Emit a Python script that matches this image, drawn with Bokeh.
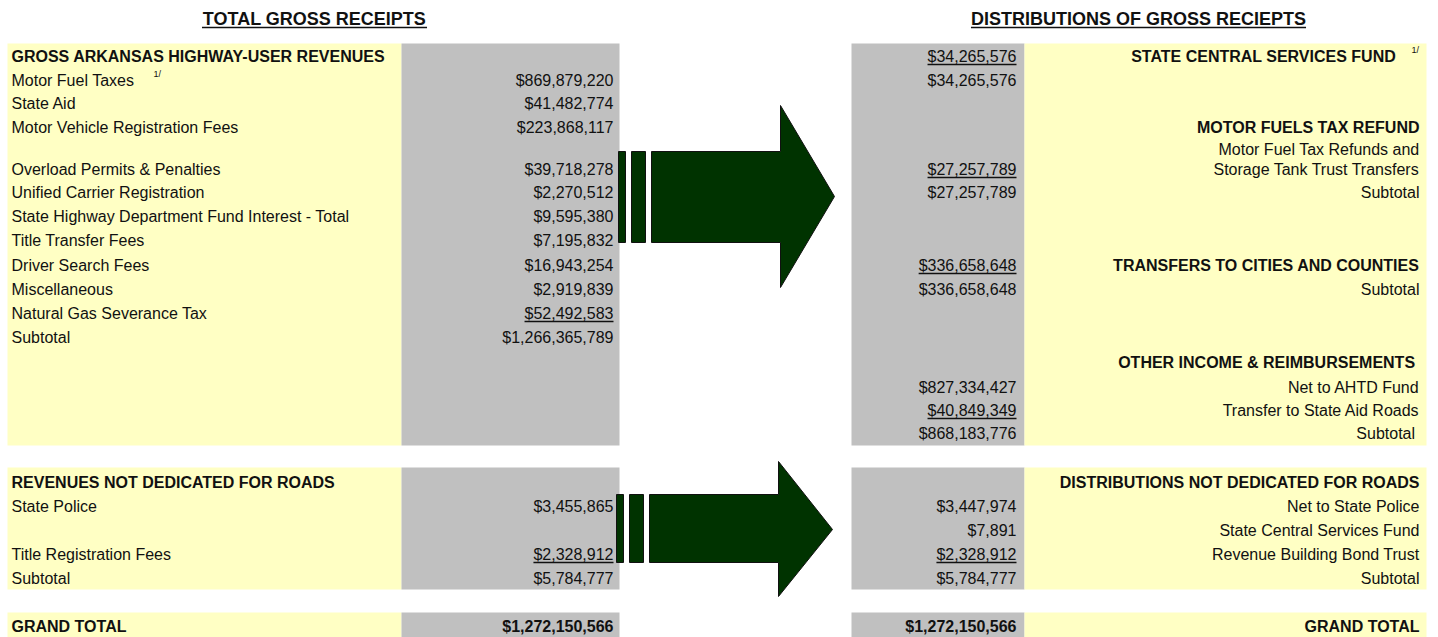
from bokeh.plotting import figure
from bokeh.models import Range1d, ColumnDataSource
from bokeh.core.properties import value
from bokeh.embed import file_html
from bokeh.resources import INLINE

# ---------------- data ----------------
title_left = "TOTAL GROSS RECEIPTS"
title_right = "DISTRIBUTIONS OF GROSS RECIEPTS"

gross_header = "GROSS ARKANSAS HIGHWAY-USER REVENUES"
gross_labels = ["Motor Fuel Taxes", "State Aid", "Motor Vehicle Registration Fees",
                "Overload Permits & Penalties", "Unified Carrier Registration",
                "State Highway Department Fund Interest - Total", "Title Transfer Fees",
                "Driver Search Fees", "Miscellaneous", "Natural Gas Severance Tax", "Subtotal"]
gross_values = [869879220, 41482774, 223868117, 39718278, 2270512, 9595380, 7195832,
                16943254, 2919839, 52492583, 1266365789]
gross_rows = [1, 2, 3, 5, 6, 7, 8, 9, 10, 11, 12]
gross_underline = [False] * 9 + [True, False]

dist_labels = ["STATE CENTRAL SERVICES  FUND", "", "MOTOR FUELS TAX REFUND", "Motor Fuel Tax Refunds and",
               "Storage Tank Trust Transfers", "Subtotal", "TRANSFERS TO CITIES AND COUNTIES", "Subtotal",
               "OTHER  INCOME & REIMBURSEMENTS", "Net to AHTD Fund", "Transfer to State Aid Roads", "Subtotal "]
dist_bold = [True, False, True, False, False, False, True, False, True, False, False, False]
dist_values = [34265576, 34265576, None, None, 27257789, 27257789, 336658648, 336658648,
               None, 827334427, 40849349, 868183776]
dist_underline = [True, False, False, False, True, False, True, False, False, False, True, False]
dist_rows = [0, 1, 3, 4, 5, 6, 9, 10, 13, 14, 15, 16]

nd_header_left = "REVENUES NOT DEDICATED FOR ROADS"
nd_labels_left = ["State Police", "Title Registration Fees", "Subtotal"]
nd_values_left = [3455865, 2328912, 5784777]
nd_rows_left = [1, 3, 4]
nd_underline_left = [False, True, False]

nd_header_right = "DISTRIBUTIONS NOT DEDICATED FOR ROADS"
nd_labels_right = ["Net to State Police", "State Central Services Fund", "Revenue Building Bond Trust", "Subtotal"]
nd_values_right = [3447974, 7891, 2328912, 5784777]
nd_rows_right = [1, 2, 3, 4]
nd_underline_right = [False, False, True, False]

grand_label = "GRAND TOTAL"
grand_value = 1272150566
footnote = "1/"

# ---------------- layout ----------------
YELLOW = "#FFFFC4"
GRAY = "#C0C0C0"
GREEN = "#003300"
FONT = value("Liberation Sans")
FS = 16

TOP_ROW_Y = [56, 80, 103, 127, 149, 169, 192, 216, 240, 265, 289, 313, 337, 362, 387, 410, 433]
BOT_ROW_Y = [482, 506, 530, 554, 578]
GT_Y = 626

LX0, LX1, LX2 = 7, 401, 619
RX0, RX1, RX2 = 851, 1024, 1426
L_TEXT = 11
L_NUM = 613
R_NUM = 1016
R_TEXT = 1419

W_REG = {c: 556 for c in "0123456789$"}
W_REG.update({",": 278, ".": 278, " ": 278})
W_BOLD_UP = dict(A=722, B=722, C=722, D=722, E=667, F=611, G=778, H=722, I=278, J=556, K=722,
                 L=611, M=833, N=722, O=778, P=667, Q=778, R=722, S=667, T=611, U=722, V=667,
                 W=944, X=667, Y=667, Z=611)
W_BOLD_UP[" "] = 278


def tw(s, size, bold=False):
    table = W_BOLD_UP if bold else W_REG
    return sum(table.get(c, 556) for c in s) * size / 1000.0


def money(v):
    return "${:,}".format(v)


p = figure(width=1438, height=637, output_backend="svg", toolbar_location=None,
           x_range=Range1d(0, 1438), y_range=Range1d(637, 0), min_border=0)
p.axis.visible = False
p.grid.visible = False
p.outline_line_color = None
p.background_fill_color = "white"

# panels
panels = dict(left=[LX0, LX1, RX0, RX1, LX0, LX1, RX0, RX1, LX0, LX1, RX0, RX1],
              right=[LX1, LX2, RX1, RX2, LX1, LX2, RX1, RX2, LX1, LX2, RX1, RX2],
              top=[43, 43, 43, 43, 467, 467, 467, 467, 612, 612, 612, 612],
              bottom=[445, 445, 445, 445, 589, 589, 589, 589, 638, 638, 638, 638],
              color=[YELLOW, GRAY, GRAY, YELLOW] * 3)
p.quad(source=ColumnDataSource(panels), left="left", right="right", top="top", bottom="bottom",
       fill_color="color", line_color=None)

# arrows
def arrow(bar_top, bar_bot, head_top, head_bot, tip_y, x0):
    xs = [[x0, x0 + 7, x0 + 7, x0], [x0 + 13, x0 + 27, x0 + 27, x0 + 13],
          [x0 + 33, x0 + 162, x0 + 162, x0 + 216, x0 + 162, x0 + 162, x0 + 33]]
    ys = [[bar_top, bar_top, bar_bot, bar_bot], [bar_top, bar_top, bar_bot, bar_bot],
          [bar_top, bar_top, head_top, tip_y, head_bot, bar_bot, bar_bot]]
    return xs, ys

ax1, ay1 = arrow(151, 242, 105, 287, 196, 618)
ax2, ay2 = arrow(494, 562, 461, 596, 529, 616)
p.patches(xs=ax1 + ax2, ys=ay1 + ay2, fill_color=GREEN, line_color="#111111", line_width=1)

texts = dict(x=[], y=[], text=[], align=[], bold=[], size=[])
ulines = dict(x0=[], x1=[], y=[])


def add(x, y, t, align="left", bold=False, size=FS, underline=False):
    texts["x"].append(x); texts["y"].append(y); texts["text"].append(t)
    texts["align"].append(align); texts["bold"].append(bold); texts["size"].append(size)
    if underline:
        w = tw(t, size, bold)
        if align == "right":
            a, b = x - w, x
        elif align == "center":
            a, b = x - w / 2, x + w / 2
        else:
            a, b = x, x + w
        ulines["x0"].append(a); ulines["x1"].append(b)
        ulines["y"].append(y + (9 if size > 16 else 8))


# titles
add(314, 18, title_left, "center", True, 18, True)
add(1138, 18, title_right, "center", True, 18, True)

# top-left
add(L_TEXT, TOP_ROW_Y[0], gross_header, bold=True)
for lab, v, r, u in zip(gross_labels, gross_values, gross_rows, gross_underline):
    add(L_TEXT, TOP_ROW_Y[r], lab)
    add(L_NUM, TOP_ROW_Y[r], money(v), "right", underline=u)

# top-right
for lab, b, v, u, r in zip(dist_labels, dist_bold, dist_values, dist_underline, dist_rows):
    y = TOP_ROW_Y[r]
    if v is not None:
        add(R_NUM, y, money(v), "right", underline=u)
    if lab:
        xr = R_TEXT - 19 if r == 0 else R_TEXT
        add(xr, y, lab, "right", bold=b)

# bottom
add(L_TEXT, BOT_ROW_Y[0], nd_header_left, bold=True)
for lab, v, r, u in zip(nd_labels_left, nd_values_left, nd_rows_left, nd_underline_left):
    add(L_TEXT, BOT_ROW_Y[r], lab)
    add(L_NUM, BOT_ROW_Y[r], money(v), "right", underline=u)
add(R_TEXT, BOT_ROW_Y[0], nd_header_right, "right", bold=True)
for lab, v, r, u in zip(nd_labels_right, nd_values_right, nd_rows_right, nd_underline_right):
    add(R_NUM, BOT_ROW_Y[r], money(v), "right", underline=u)
    add(R_TEXT, BOT_ROW_Y[r], lab, "right")

# grand total
add(L_TEXT, GT_Y, grand_label, bold=True)
add(L_NUM, GT_Y, money(grand_value), "right", bold=True)
add(R_NUM, GT_Y, money(grand_value), "right", bold=True)
add(R_TEXT, GT_Y, grand_label, "right", bold=True)

# render texts grouped by style
for align in ("left", "right", "center"):
    for bold in (False, True):
        for size in sorted(set(texts["size"])):
            idx = [i for i in range(len(texts["x"]))
                   if texts["align"][i] == align and texts["bold"][i] == bold and texts["size"][i] == size]
            if not idx:
                continue
            src = ColumnDataSource(dict(x=[texts["x"][i] for i in idx], y=[texts["y"][i] for i in idx],
                                        text=[texts["text"][i] for i in idx]))
            p.text(x="x", y="y", text="text", source=src, text_font=FONT,
                   text_font_size="%dpx" % size, text_font_style="bold" if bold else "normal",
                   text_align=align, text_baseline="middle", text_color="#111111")

p.segment(x0="x0", x1="x1", y0="y", y1="y", source=ColumnDataSource(ulines),
          line_color="#111111", line_width=1.5)

# footnote markers
p.text(x=[153, 1411], y=[73, 49], text=[footnote, footnote], text_font=FONT, text_font_size="9px",
       text_align="left", text_baseline="middle", text_color="#111111")

open("out.html", "w").write(file_html(p, INLINE))
